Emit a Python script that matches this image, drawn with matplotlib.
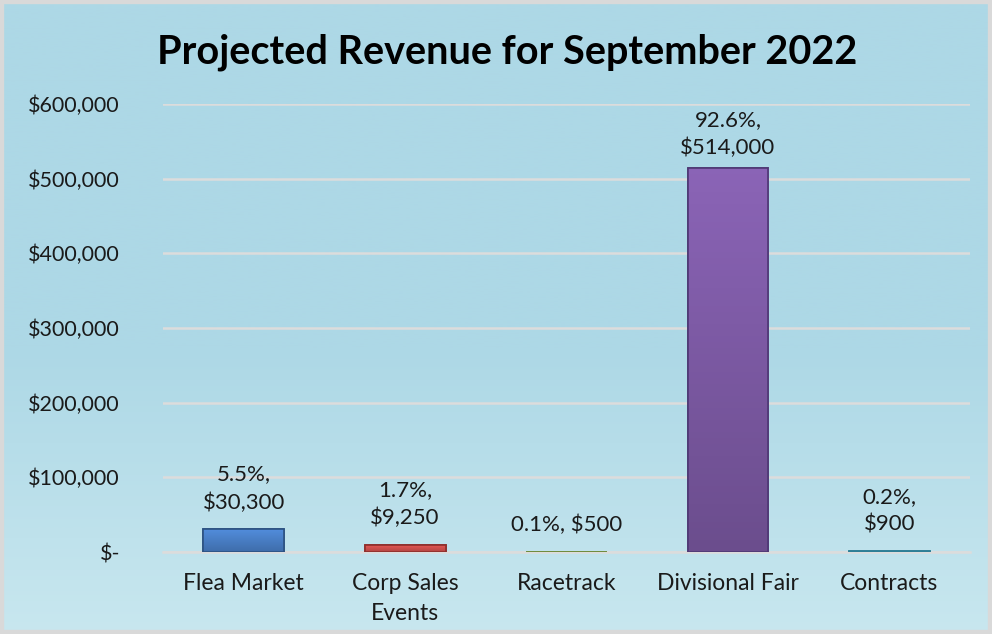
import numpy as np
import matplotlib.pyplot as plt
from matplotlib.colors import to_rgb
from matplotlib.ticker import FuncFormatter

# Données
categories = ['Flea Market', 'Corp Sales\nEvents', 'Racetrack', 'Divisional Fair', 'Contracts']
revenue = [30300, 9250, 500, 514000, 900]
labels = ['5.5%,\n$30,300', '1.7%,\n$9,250', '0.1%, $500', '92.6%,\n$514,000', '0.2%,\n$900']
colors = ['#4A80C8', '#D0504D', '#9BBB59', '#7E5BA6', '#4BACC6']
edges = ['#2C5282', '#8E2F2C', '#6E8A3A', '#4E3874', '#2E7F96']

plt.rcParams['font.family'] = ['Lato', 'DejaVu Sans']

fig = plt.figure(figsize=(9.92, 6.34), dpi=100)

# Fond en dégradé
bg = fig.add_axes([0, 0, 1, 1], zorder=0)
grad = np.linspace(0, 1, 256).reshape(-1, 1)
top = np.array([173, 216, 230]) / 255
bot = np.array([200, 231, 239]) / 255
img = top + (bot - top) * np.clip((grad - 0.55) / 0.45, 0, 1)[..., None]
bg.imshow(img, aspect='auto', extent=[0, 1, 0, 1])
bg.add_patch(plt.Rectangle((0, 0), 1, 1, fill=False, ec='#D9D9D9', lw=6, transform=bg.transAxes))
bg.set_axis_off()

ax = fig.add_axes([0.1643, 0.1293, 0.8137, 0.7067], zorder=1)
ax.patch.set_alpha(0)

x = np.arange(len(categories))
bars = ax.bar(x, revenue, width=0.5, color=colors, edgecolor=edges, linewidth=1.2, zorder=3)

# léger dégradé sur chaque barre
for b, c in zip(bars, colors):
    rgb = np.array(to_rgb(c))
    g = np.linspace(1, 0, 64).reshape(-1, 1, 1)
    shade = np.clip(rgb * (0.85 + 0.25 * g), 0, 1) * np.ones((64, 1, 3))
    bx, by = b.get_x(), b.get_y()
    im = ax.imshow(shade, aspect='auto', zorder=3.5,
                   extent=[bx, bx + b.get_width(), by, by + b.get_height()])
    im.set_clip_path(b)
    ax.bar(b.get_x() + b.get_width() / 2, b.get_height(), width=b.get_width(),
           fill=False, edgecolor=b.get_edgecolor(), linewidth=1.2, zorder=4)

# étiquettes de données (les petites barres ont un décalage plus grand)
for xi, v, lab in zip(x, revenue, labels):
    off = 7 if v > 100000 else 12
    ax.annotate(lab, (xi, v), xytext=(0, off), textcoords='offset points',
                ha='center', va='bottom', fontsize=16, color='#1A1A1A', linespacing=1.5)

ax.set_ylim(0, 600000)
ax.set_xlim(-0.5, 4.5)
ax.set_yticks(np.arange(0, 600001, 100000))
ax.yaxis.set_major_formatter(FuncFormatter(lambda v, p: '$-' if v == 0 else '${:,.0f}'.format(v)))
ax.set_xticks(x)
ax.set_xticklabels(categories, linespacing=1.55)
ax.tick_params(axis='y', length=0, pad=31, labelsize=15.5, labelcolor='#1A1A1A')
ax.tick_params(axis='x', length=0, pad=15, labelsize=16.5, labelcolor='#1A1A1A')
ax.grid(axis='y', color='#DCDCDC', linewidth=1.8, zorder=0)
for s in ['top', 'right', 'left']:
    ax.spines[s].set_visible(False)
ax.spines['bottom'].set_color('#DCDCDC')
ax.spines['bottom'].set_linewidth(1.8)

fig.text(0.511, 0.918, 'Projected Revenue for September 2022', ha='center', va='center',
         fontsize=28.5, fontweight='bold', color='black')

fig.savefig('out.png', dpi=100)
